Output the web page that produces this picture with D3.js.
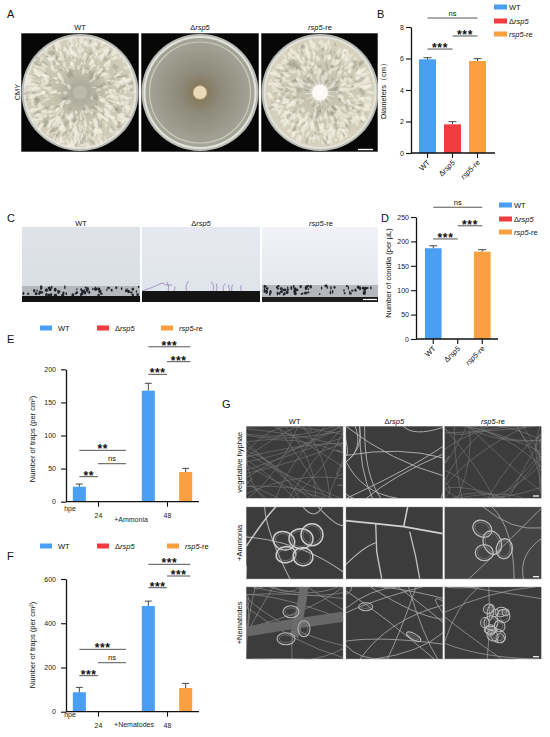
<!DOCTYPE html>
<html><head><meta charset="utf-8">
<script src="https://cdn.jsdelivr.net/npm/d3@7"></script>
<style>body{margin:0;background:#fff}svg{display:block;font-family:"Liberation Sans",Arial,sans-serif}</style>
</head><body><script>
// ---------------- DATA ----------------
const strains = ["WT", "Δrsp5", "rsp5-re"];
const strainColors = ["#4a9ff5", "#f23b3f", "#fba040"];
const diameterMean = [5.95, 1.82, 5.84];
const diameterErr = [0.10, 0.17, 0.15];
const diameterTicks = [0, 2, 4, 6, 8];
const conidiaMean = [186, 0, 179];
const conidiaErr = [5, 0, 4];
const conidiaTicks = [0, 50, 100, 150, 200, 250];
const hpe = ["24", "48"];
const ammoniaMean = [[22.7, 0, 0], [167.7, 0, 44.9]];
const ammoniaErr = [[4.0, 0, 0], [11.2, 0, 5.5]];
const ammoniaTicks = [0, 50, 100, 150, 200];
const nematodeMean = [[88, 0, 0], [478, 0, 107]];
const nematodeErr = [[22, 0, 0], [22, 0, 21]];
const nematodeTicks = [0, 200, 400, 600];
// significance brackets: [fromBar, toBar, level, label] / grouped: [group, fromBar, toBar, level, label]
const diameterSig = [[0, 2, 8.57, "ns"], [0, 1, 6.6, "***"], [1, 2, 7.43, "***"]];
const conidiaSig = [[0, 2, 270, "ns"], [0, 1, 205, "***"], [1, 2, 232, "***"]];
const ammoniaSig = [[0, 0, 1, 37.8, "**"], [0, 1, 2.5, 57.4, "ns"], [0, 0, 2.5, 77.6, "**"],
                    [1, 0, 1, 192.4, "***"], [1, 1, 2.25, 211.5, "***"], [1, 0, 2.25, 234, "***"]];
const nematodeSig = [[0, 0, 1, 162.8, "***"], [0, 1, 2.5, 221.5, "ns"], [0, 0, 2.5, 282, "***"],
                     [1, 0, 1, 560.6, "***"], [1, 1, 2.25, 613.5, "***"], [1, 0, 2.25, 666.4, "***"]];
const photoRows = ["vegetative hyphae", "+Ammonia", "+Nematodes"];

// ---------------- SETUP ----------------
const svg = d3.select("body").append("svg").attr("width", 550).attr("height", 737);
const defs = svg.append("defs");
svg.append("rect").attr("width", 550).attr("height", 737).attr("fill", "#fff");

function strainText(t, name) {
  if (name === "Δrsp5") { t.append("tspan").text("Δ"); t.append("tspan").attr("font-style", "italic").text("rsp5"); }
  else if (name === "rsp5-re") { t.append("tspan").attr("font-style", "italic").text("rsp5"); t.append("tspan").text("-re"); }
  else t.append("tspan").text(name);
  return t;
}
function txt(x, y, s, size, anchor) {
  return svg.append("text").attr("x", x).attr("y", y).attr("font-size", size)
    .attr("text-anchor", anchor || "start").attr("fill", "#111").text(s);
}
function clipGroup(x, y, w, h, id) {
  defs.append("clipPath").attr("id", id).append("rect").attr("x", x).attr("y", y).attr("width", w).attr("height", h);
  return svg.append("g").attr("clip-path", `url(#${id})`);
}
function radial(id, stops) {
  const g = defs.append("radialGradient").attr("id", id);
  stops.forEach(s => g.append("stop").attr("offset", s[0]).attr("stop-color", s[1]).attr("stop-opacity", s[2] == null ? 1 : s[2]));
}
function linear(id, stops) {
  const g = defs.append("linearGradient").attr("id", id).attr("x1", 0).attr("y1", 0).attr("x2", 0).attr("y2", 1);
  stops.forEach(s => g.append("stop").attr("offset", s[0]).attr("stop-color", s[1]));
}

// panel letters
[["A", 7, 18], ["B", 377, 18], ["C", 7, 222], ["D", 381, 222], ["E", 7, 343], ["F", 7, 560], ["G", 222, 408]]
  .forEach(d => txt(d[1], d[2], d[0], 11));

// ---------------- PANEL A (plates) ----------------
const plateX = [21, 141, 261];
radial("gA0", [[0, "#a3a394"], [0.2, "#b1b0a0"], [0.5, "#c6c3ae"], [1, "#d2cebb"]]);
radial("gA1", [[0, "#6e624d"], [0.12, "#85785e"], [0.4, "#8e8c7c"], [1, "#a4a698"]]);
radial("gA2", [[0, "#fbfaf4"], [0.1, "#ece8da"], [0.2, "#c4c2b0"], [0.6, "#cdc9b4"], [1, "#d6d2be"]]);
strains.forEach((s, i) => {
  const x0 = plateX[i], w = i === 2 ? 117 : 118;
  strainText(txt(x0 + 59, 30, "", 7.5, "middle"), s);
  const g = clipGroup(x0, 33, w, 119, "clipA" + i);
  g.append("rect").attr("x", x0).attr("y", 33).attr("width", w).attr("height", 119).attr("fill", "#060606");
  const cx = x0 + 59, cy = 92.5;
  g.append("circle").attr("cx", cx).attr("cy", cy).attr("r", 58.5).attr("fill", "#b9bab4");
  g.append("circle").attr("cx", cx).attr("cy", cy).attr("r", 56.5).attr("fill", "#e3e2dc");
  g.append("circle").attr("cx", cx).attr("cy", cy).attr("r", 54.5).attr("fill", `url(#gA${i})`);
  const rng = d3.randomLcg(11 + i);
  if (i !== 1) {
    for (let k = 0; k < 700; k++) {
      const a = rng() * Math.PI * 2, rr = (i === 0 ? 12 : 9) + Math.sqrt(rng()) * 42;
      const px = cx + rr * Math.cos(a), py = cy + rr * Math.sin(a);
      const light = rng() < (rr > 25 ? 0.8 : 0.55);
      g.append("ellipse").attr("cx", px).attr("cy", py).attr("rx", 1.5 + rng() * 2.6).attr("ry", 0.8 + rng() * 1.2)
        .attr("transform", `rotate(${a * 180 / Math.PI + (rng() - 0.5) * 60},${px},${py})`)
        .attr("fill", light ? "#f4f0e3" : "#8e8d7f").attr("fill-opacity", light ? 0.55 : 0.35);
    }
    if (i === 2) {
      g.append("circle").attr("cx", cx).attr("cy", cy).attr("r", 8).attr("fill", "#fbfaf6").attr("opacity", 0.9);
      for (let k = 0; k < 16; k++) {
        const a = k * Math.PI / 8 + 0.3;
        g.append("line").attr("x1", cx).attr("y1", cy).attr("x2", cx + 15 * Math.cos(a)).attr("y2", cy + 15 * Math.sin(a))
          .attr("stroke", "#ffffff").attr("stroke-width", 0.7).attr("stroke-opacity", 0.7);
      }
    } else {
      g.append("circle").attr("cx", cx).attr("cy", cy).attr("r", 7).attr("fill", "#c8c6b6").attr("opacity", 0.6);
    }
  } else {
    g.append("circle").attr("cx", cx).attr("cy", cy).attr("r", 50.5).attr("fill", "none")
      .attr("stroke", "#d8d5c4").attr("stroke-width", 1.2).attr("stroke-opacity", 0.8);
    g.append("circle").attr("cx", cx).attr("cy", cy).attr("r", 6.8).attr("fill", "#ead9b9").attr("stroke", "#c8ae86").attr("stroke-width", 0.8);
  }
  g.append("rect").attr("x", x0).attr("y", 33).attr("width", w).attr("height", 119).attr("fill", "none").attr("stroke", "#bdbdbd").attr("stroke-width", 0.8);
});
svg.append("line").attr("x1", 358).attr("x2", 373).attr("y1", 149.5).attr("y2", 149.5).attr("stroke", "#fff").attr("stroke-width", 1.4);
svg.append("text").attr("transform", "translate(20,92) rotate(-90)").attr("font-size", 7.5).attr("text-anchor", "middle").attr("fill", "#111").text("CMY");

// ---------------- PANEL C (conidia photos) ----------------
const photoCX = [22, 142, 262];
linear("gC0", [[0, "#dfe3e8"], [1, "#d9dee3"]]);
linear("gC1", [[0, "#e6eaf0"], [1, "#dfe4ea"]]);
linear("gC2", [[0, "#f1f3f8"], [1, "#e0e4ea"]]);
strains.forEach((s, i) => {
  const x0 = photoCX[i], w = i === 2 ? 116 : 118;
  strainText(txt(x0 + 59, 225.5, "", 7.5, "middle"), s);
  const g = clipGroup(x0, 227, w, 75, "clipC" + i);
  g.append("rect").attr("x", x0).attr("y", 227).attr("width", w).attr("height", 75).attr("fill", `url(#gC${i})`);
  const rng = d3.randomLcg(31 + i);
  if (i === 1) {
    g.append("rect").attr("x", x0).attr("y", 291).attr("width", w).attr("height", 11).attr("fill", "#141414");
    for (let k = 0; k < 9; k++) {
      const px = x0 + 5 + rng() * 108, h = 3 + rng() * 8;
      g.append("path").attr("d", `M${px},291 q${-3 + rng() * 6},${-h / 2} ${-2 + rng() * 4},${-h}`)
        .attr("fill", "none").attr("stroke", "#7c5cb0").attr("stroke-width", 0.6);
    }
    g.append("path").attr("d", `M${x0},291 q10,-3 20,-8 q4,3 10,2`).attr("fill", "none").attr("stroke", "#7c5cb0").attr("stroke-width", 0.6);
  } else {
    const top = i === 0 ? 286 : 285, bot = i === 0 ? 296 : 297;
    g.append("rect").attr("x", x0).attr("y", top).attr("width", w).attr("height", bot - top).attr("fill", "#b4b7bb");
    for (let k = 0; k < 70; k++) {
      g.append("ellipse").attr("cx", x0 + 1 + rng() * (w - 2)).attr("cy", top + 0.5 + rng() * 9)
        .attr("rx", 0.6 + rng() * 1.0).attr("ry", 0.9 + rng() * 1.2).attr("fill", "#23232e");
    }
    g.append("rect").attr("x", x0).attr("y", bot).attr("width", w).attr("height", 302 - bot).attr("fill", i === 0 ? "#111" : "#1d1d1d");
  }
});
svg.append("line").attr("x1", 363).attr("x2", 377).attr("y1", 299.5).attr("y2", 299.5).attr("stroke", "#fff").attr("stroke-width", 1.2);

// ---------------- SIMPLE BAR CHARTS (B, D) ----------------
function sigMark(g, x1, x2, y, label) {
  g.append("line").attr("x1", x1).attr("x2", x2).attr("y1", y).attr("y2", y).attr("stroke", "#555").attr("stroke-width", 1);
  if (label === "ns") g.append("text").attr("x", (x1 + x2) / 2).attr("y", y - 2.5).attr("font-size", 7.5).attr("text-anchor", "middle").attr("fill", "#111").text("ns");
  else g.append("text").attr("x", (x1 + x2) / 2).attr("y", y + 3).attr("font-size", 12).attr("font-weight", "bold").attr("letter-spacing", 0.6).attr("text-anchor", "middle").attr("fill", "#111").text(label);
}
function styleAxis(a) {
  a.select(".domain").attr("stroke", "#111").attr("stroke-width", 1.3);
  a.selectAll(".tick line").attr("stroke", "#111").attr("stroke-width", 1.1);
  a.selectAll(".tick text").attr("font-size", 7).attr("fill", "#222").attr("font-family", '"Liberation Sans",Arial,sans-serif');
}
function simpleChart(o) {
  const g = svg.append("g");
  const x = d3.scaleBand().domain(strains).range(o.xRange).paddingInner(0.32).paddingOuter(0.16);
  const y = d3.scaleLinear().domain([0, o.ticks[o.ticks.length - 1]]).range(o.yRange);
  const cx = i => x(strains[0]) + x.bandwidth() / 2 + i * x.step();
  strains.forEach((s, i) => {
    const m = o.mean[i], e = o.err[i];
    if (m > 0) g.append("rect").attr("x", x(s)).attr("y", y(m)).attr("width", x.bandwidth()).attr("height", y(0) - y(m)).attr("fill", strainColors[i]);
    if (e > 0) {
      g.append("line").attr("x1", cx(i)).attr("x2", cx(i)).attr("y1", y(m)).attr("y2", y(m + e)).attr("stroke", "#333").attr("stroke-width", 0.9);
      g.append("line").attr("x1", cx(i) - 4).attr("x2", cx(i) + 4).attr("y1", y(m + e)).attr("y2", y(m + e)).attr("stroke", "#333").attr("stroke-width", 0.9);
    }
  });
  const ya = g.append("g").attr("transform", `translate(${o.axisX},0)`)
    .call(d3.axisLeft(y).tickValues(o.ticks).tickSize(5).tickSizeOuter(0).tickPadding(2));
  styleAxis(ya);
  g.append("line").attr("x1", o.axisX).attr("x2", o.axisEnd).attr("y1", y(0)).attr("y2", y(0)).attr("stroke", "#111").attr("stroke-width", 1.3);
  strains.forEach((s, i) => {
    g.append("line").attr("x1", cx(i)).attr("x2", cx(i)).attr("y1", y(0)).attr("y2", y(0) + 5).attr("stroke", "#111").attr("stroke-width", 1.1);
    const t = g.append("text").attr("x", cx(i) + 3).attr("y", y(0) + 10).attr("font-size", 7.5).attr("fill", "#111")
      .attr("text-anchor", "end").attr("transform", `rotate(-45,${cx(i) + 3},${y(0) + 10})`);
    strainText(t, s);
  });
  o.sig.forEach(d => sigMark(g, cx(d[0]), cx(d[1]), y(d[2]), d[3]));
  g.append("text").attr("transform", `translate(${o.labelX},${o.labelY}) rotate(-90)`).attr("font-size", 7.5)
    .attr("text-anchor", "middle").attr("fill", "#111").text(o.ylabel);
  // vertical legend
  strains.forEach((s, i) => {
    const ly = o.legendY[i];
    g.append("rect").attr("x", o.legendX).attr("y", ly - 2.5).attr("width", 13).attr("height", 5).attr("fill", strainColors[i]);
    strainText(g.append("text").attr("x", o.legendX + 15).attr("y", ly + 2.5).attr("font-size", 7.5).attr("fill", "#111"), s);
  });
}
simpleChart({ xRange: [415, 490], yRange: [153, 27], axisX: 411, axisEnd: 495, ticks: diameterTicks,
  mean: diameterMean, err: diameterErr, sig: diameterSig, ylabel: "Diameters（cm）", labelX: 386, labelY: 89,
  legendX: 494, legendY: [7, 21, 34] });
simpleChart({ xRange: [421, 494.5], yRange: [339, 217], axisX: 416, axisEnd: 498, ticks: conidiaTicks,
  mean: conidiaMean, err: conidiaErr, sig: conidiaSig, ylabel: "Number of conidia (per μL)", labelX: 391, labelY: 273,
  legendX: 499, legendY: [205, 219, 232] });

// ---------------- GROUPED BAR CHARTS (E, F) ----------------
function groupedChart(o) {
  const g = svg.append("g");
  const gx = d3.scalePoint().domain(hpe).range([o.axisX, o.axisEnd]).padding(0.464);
  const bx = d3.scaleBand().domain(strains).range([-28, 28]).paddingInner(0.3).paddingOuter(0.15);
  const y = d3.scaleLinear().domain([0, o.ticks[o.ticks.length - 1]]).range(o.yRange);
  const cx = (gi, i) => gx(hpe[gi]) + bx(strains[0]) + bx.bandwidth() / 2 + i * bx.step();
  hpe.forEach((h, gi) => strains.forEach((s, i) => {
    const m = o.mean[gi][i], e = o.err[gi][i];
    if (m > 0) g.append("rect").attr("x", gx(h) + bx(s)).attr("y", y(m)).attr("width", bx.bandwidth()).attr("height", y(0) - y(m)).attr("fill", strainColors[i]);
    if (e > 0) {
      g.append("line").attr("x1", cx(gi, i)).attr("x2", cx(gi, i)).attr("y1", y(m)).attr("y2", y(m + e)).attr("stroke", "#333").attr("stroke-width", 0.9);
      g.append("line").attr("x1", cx(gi, i) - 3.5).attr("x2", cx(gi, i) + 3.5).attr("y1", y(m + e)).attr("y2", y(m + e)).attr("stroke", "#333").attr("stroke-width", 0.9);
    }
  }));
  const ya = g.append("g").attr("transform", `translate(${o.axisX},0)`)
    .call(d3.axisLeft(y).tickValues(o.ticks).tickSize(5).tickSizeOuter(0).tickPadding(5));
  styleAxis(ya);
  const xa = g.append("g").attr("transform", `translate(0,${y(0)})`)
    .call(d3.axisBottom(gx).tickSize(5).tickSizeOuter(0).tickPadding(6));
  xa.select(".domain").attr("d", `M${o.axisX},0H${o.axisEnd}`);
  styleAxis(xa);
  g.append("text").attr("x", 70).attr("y", y(0) + o.hpeDy).attr("font-size", 7).attr("text-anchor", "middle").attr("fill", "#222").text("hpe");
  g.append("text").attr("x", o.treatX).attr("y", y(0) + o.treatDy).attr("font-size", 7).attr("text-anchor", "middle").attr("fill", "#222").text(o.treat);
  o.sig.forEach(d => sigMark(g, cx(d[0], d[1]), cx(d[0], d[2]), y(d[3]), d[4]));
  g.append("text").attr("transform", `translate(${o.labelX},${o.labelY}) rotate(-90)`).attr("font-size", 7.5)
    .attr("text-anchor", "middle").attr("fill", "#111").text("Number of traps (per cm²)");
  strains.forEach((s, i) => {
    const lx = o.legendX[i];
    g.append("rect").attr("x", lx).attr("y", o.legendY - 2.5).attr("width", 12).attr("height", 5).attr("fill", strainColors[i]);
    strainText(g.append("text").attr("x", lx + 18).attr("y", o.legendY + 2.5).attr("font-size", 7.5).attr("fill", "#111"), s);
  });
}
groupedChart({ axisX: 66, axisEnd: 199, yRange: [501.7, 369.3], ticks: ammoniaTicks, mean: ammoniaMean, err: ammoniaErr,
  sig: ammoniaSig, treat: "+Ammonia", treatX: 131, treatDy: 20, hpeDy: 9.5, labelX: 35, labelY: 439,
  legendX: [40, 97, 161], legendY: 328 });
groupedChart({ axisX: 66, axisEnd: 199, yRange: [711.7, 579], ticks: nematodeTicks, mean: nematodeMean, err: nematodeErr,
  sig: nematodeSig, treat: "+Nematodes", treatX: 134, treatDy: 15, hpeDy: 5.5, labelX: 35, labelY: 645,
  legendX: [40, 97, 167], legendY: 546 });

// ---------------- PANEL G (SEM photos) ----------------
const gColX = [246, 345.7, 444.3], gRowY = [426, 506.7, 586.7], gW = 97.3, gH = 72.5;
strains.forEach((s, i) => strainText(txt(gColX[i] + gW / 2, 424, "", 7.5, "middle"), s));
photoRows.forEach((r, j) => svg.append("text").attr("transform", `translate(242,${gRowY[j] + gH / 2}) rotate(-90)`)
  .attr("font-size", 7.5).attr("text-anchor", "middle").attr("fill", "#111").text(r));
function hyphae(g, x0, y0, n, rng, col, wd) {
  for (let k = 0; k < n; k++) {
    const pick = () => { const e = Math.floor(rng() * 4), t = rng();
      return e === 0 ? [x0 + t * gW, y0] : e === 1 ? [x0 + gW, y0 + t * gH] : e === 2 ? [x0 + t * gW, y0 + gH] : [x0, y0 + t * gH]; };
    const p = pick(), q = pick();
    const c = [(p[0] + q[0]) / 2 + (rng() - 0.5) * 30, (p[1] + q[1]) / 2 + (rng() - 0.5) * 30];
    g.append("path").attr("d", `M${p[0]},${p[1]}Q${c[0]},${c[1]} ${q[0]},${q[1]}`).attr("fill", "none")
      .attr("stroke", col).attr("stroke-width", wd);
  }
}
function loops(g, list, col, wd) {
  list.forEach(l => {
    g.append("ellipse").attr("cx", l[0]).attr("cy", l[1]).attr("rx", l[2]).attr("ry", l[3])
      .attr("transform", `rotate(${l[4] || 0},${l[0]},${l[1]})`).attr("fill", "none").attr("stroke", col).attr("stroke-width", wd);
    g.append("ellipse").attr("cx", l[0]).attr("cy", l[1]).attr("rx", Math.max(1, l[2] - 2.2)).attr("ry", Math.max(1, l[3] - 2.2))
      .attr("transform", `rotate(${l[4] || 0},${l[0]},${l[1]})`).attr("fill", "none").attr("stroke", "#888").attr("stroke-width", 0.6);
  });
}
photoRows.forEach((r, j) => strains.forEach((s, i) => {
  const x0 = gColX[i], y0 = gRowY[j];
  const g = clipGroup(x0, y0, gW, gH, `clipG${j}${i}`);
  g.append("rect").attr("x", x0).attr("y", y0).attr("width", gW).attr("height", gH).attr("fill", j === 1 && i === 2 ? "#444" : "#3c3c3c");
  const rng = d3.randomLcg(100 + j * 10 + i);
  if (j === 0) {
    if (i === 1) hyphae(g, x0, y0, 16, rng, "#b8b8b8", 0.9);
    else hyphae(g, x0, y0, 45, rng, "#7e7e7e", 0.55);
  } else if (j === 1) {
    if (i === 0) {
      hyphae(g, x0, y0, 5, rng, "#a9a9a9", 1.1);
      g.append("path").attr("d", `M${x0},${y0 + 40} Q${x0 + 20},${y0 + 10} ${x0 + 30},${y0}`).attr("fill", "none").attr("stroke", "#c8c8c8").attr("stroke-width", 1.5);
      loops(g, [[x0 + 38, y0 + 34, 11, 9, 20], [x0 + 55, y0 + 32, 12, 10, 0], [x0 + 66, y0 + 28, 11, 11, 0],
                [x0 + 40, y0 + 48, 10, 8, -10], [x0 + 57, y0 + 50, 10, 9, 10]], "#cfcfcf", 1.5);
    } else if (i === 1) {
      g.append("path").attr("d", `M${x0},${y0 + 14} L${x0 + 30},${y0 + 17} L${x0 + 58},${y0 + 20} L${x0 + 97},${y0 + 27}`).attr("fill", "none").attr("stroke", "#d0d0d0").attr("stroke-width", 1.7);
      g.append("path").attr("d", `M${x0 + 58},${y0 + 20} L${x0 + 62},${y0}`).attr("fill", "none").attr("stroke", "#d0d0d0").attr("stroke-width", 1.5);
      g.append("path").attr("d", `M${x0 + 30},${y0 + 17} L${x0 + 31},${y0 + 45} L${x0 + 36},${y0 + 72}`).attr("fill", "none").attr("stroke", "#c2c2c2").attr("stroke-width", 1.4);
      g.append("path").attr("d", `M${x0 + 64},${y0 + 25} L${x0 + 70},${y0 + 50} L${x0 + 74},${y0 + 72}`).attr("fill", "none").attr("stroke", "#c2c2c2").attr("stroke-width", 1.3);
      g.append("path").attr("d", `M${x0},${y0 + 58} Q${x0 + 18},${y0 + 40} ${x0 + 30},${y0 + 36}`).attr("fill", "none").attr("stroke", "#bbbbbb").attr("stroke-width", 1.1);
    } else {
      hyphae(g, x0, y0, 7, rng, "#a5a5a5", 0.9);
      loops(g, [[x0 + 38, y0 + 22, 10, 8, 30], [x0 + 48, y0 + 36, 9, 12, -20], [x0 + 40, y0 + 46, 9, 8, 0], [x0 + 60, y0 + 42, 8, 10, 10]], "#bdbdbd", 1.3);
    }
  } else {
    if (i === 0) {
      hyphae(g, x0, y0, 18, rng, "#8e8e8e", 0.7);
      g.append("path").attr("d", `M${x0},${y0 + 45} Q${x0 + 40},${y0 + 38} ${x0 + 97},${y0 + 30}`).attr("fill", "none").attr("stroke", "#676767").attr("stroke-width", 10);
      g.append("path").attr("d", `M${x0 + 58},${y0} Q${x0 + 55},${y0 + 25} ${x0 + 48},${y0 + 50}`).attr("fill", "none").attr("stroke", "#6c6c6c").attr("stroke-width", 9);
      loops(g, [[x0 + 45, y0 + 25, 8, 6, 0], [x0 + 40, y0 + 52, 9, 6, 0], [x0 + 58, y0 + 42, 6, 8, 0]], "#b9b9b9", 1.1);
    } else if (i === 1) {
      hyphae(g, x0, y0, 14, rng, "#a2a2a2", 0.9);
      loops(g, [[x0 + 20, y0 + 20, 7, 4, 0], [x0 + 68, y0 + 50, 8, 3, 30]], "#b6b6b6", 1.1);
    } else {
      hyphae(g, x0, y0, 12, rng, "#9a9a9a", 0.8);
      for (let k = 0; k < 14; k++)
        loops(g, [[x0 + 40 + rng() * 22, y0 + 20 + rng() * 34, 3 + rng() * 5, 3 + rng() * 4, rng() * 180]], "#bdbdbd", 1.0);
    }
  }
  g.append("rect").attr("x", x0).attr("y", y0).attr("width", gW).attr("height", gH).attr("fill", "none").attr("stroke", "#c8c8c8").attr("stroke-width", 0.8);
}));
gRowY.forEach(y0 => svg.append("line").attr("x1", 533).attr("x2", 539).attr("y1", y0 + gH - 2.5).attr("y2", y0 + gH - 2.5).attr("stroke", "#fff").attr("stroke-width", 1.2));
</script></body></html>
